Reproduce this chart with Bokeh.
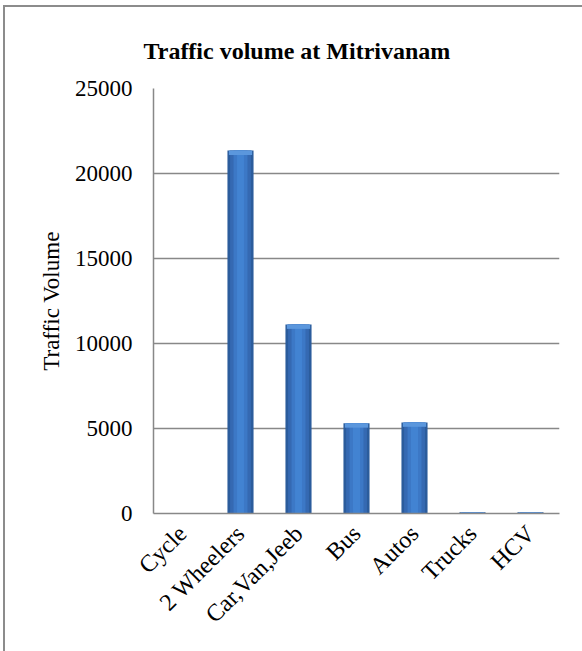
import math

from bokeh.embed import file_html
from bokeh.models import ColumnDataSource, FixedTicker, NumeralTickFormatter, Range1d
from bokeh.plotting import figure
from bokeh.resources import INLINE

# Vehicle counts at Mitrivanam
categories = ["Cycle", "2 Wheelers", "Car,Van,Jeeb", "Bus", "Autos", "Trucks", "HCV"]
volumes = [25, 21350, 11120, 5310, 5360, 80, 75]
y_ticks = [0, 5000, 10000, 15000, 20000, 25000]

FONT = "Liberation Serif"
GRID = "#888888"

source = ColumnDataSource(data=dict(
    cat=categories,
    vol=volumes,
    cap=[max(v - 260, 0) for v in volumes],
))

# the chart area runs past the right and bottom edges of the page
p = figure(
    x_range=categories,
    y_range=Range1d(0, 25000),
    width=585,
    height=650,
    output_backend="svg",
    toolbar_location=None,
    min_border_left=148,
    min_border_right=31,
    min_border_top=81,
    min_border_bottom=144,
)
# chart area edge: a 2px grey line along the left and top sides
p.styles = {
    "margin-left": "5px",
    "margin-top": "7px",
    "border": "none",
    "box-shadow": "-2px -2px 0 0 #8c8c8c",
}
p.outline_line_color = None
p.background_fill_color = "white"
p.border_fill_color = "white"

# cylinder-like shaded bars: dark edge, lighter body, bright core, light cap
p.vbar(x="cat", top="vol", width=0.45, source=source, fill_color="#2b5c9c", line_color=None)
p.vbar(x="cat", top="vol", width=0.36, source=source, fill_color="#3569b2", line_color=None)
p.vbar(x="cat", top="vol", width=0.24, source=source, fill_color="#3c78c6", line_color=None)
p.vbar(x="cat", top="vol", width=0.12, source=source, fill_color="#4283d2", line_color=None)
p.vbar(x="cat", bottom="cap", top="vol", width=0.4, source=source, fill_color="#5b97dd", line_color=None)

p.title.text = "Traffic volume at Mitrivanam"
p.title.text_font = FONT
p.title.text_font_size = "24px"
p.title.text_font_style = "bold"
p.title.text_color = "black"
p.title.align = "left"
p.title.offset = -10
p.title.standoff = 50

p.xgrid.grid_line_color = None
p.ygrid.grid_line_color = GRID
p.ygrid.grid_line_width = 1.5

p.yaxis.ticker = FixedTicker(ticks=y_ticks)
p.yaxis.formatter = NumeralTickFormatter(format="0")
p.yaxis.axis_label = "Traffic Volume"
p.yaxis.axis_label_text_font = FONT
p.yaxis.axis_label_text_font_size = "23px"
p.yaxis.axis_label_text_font_style = "normal"
p.yaxis.axis_label_text_color = "black"
p.yaxis.axis_label_standoff = 8
p.yaxis.major_label_standoff = 21

for ax in (p.xaxis, p.yaxis):
    ax.axis_line_color = GRID
    ax.axis_line_width = 1.5
    ax.major_tick_line_color = None
    ax.minor_tick_line_color = None
    ax.major_tick_out = 0
    ax.major_tick_in = 0
    ax.major_label_text_font = FONT
    ax.major_label_text_font_size = "23px"
    ax.major_label_text_color = "black"

p.xaxis.major_label_text_font_size = "24px"
p.xaxis.major_label_orientation = math.pi / 4
p.xaxis.major_label_standoff = 16

open("out.html", "w").write(file_html(p, INLINE))
